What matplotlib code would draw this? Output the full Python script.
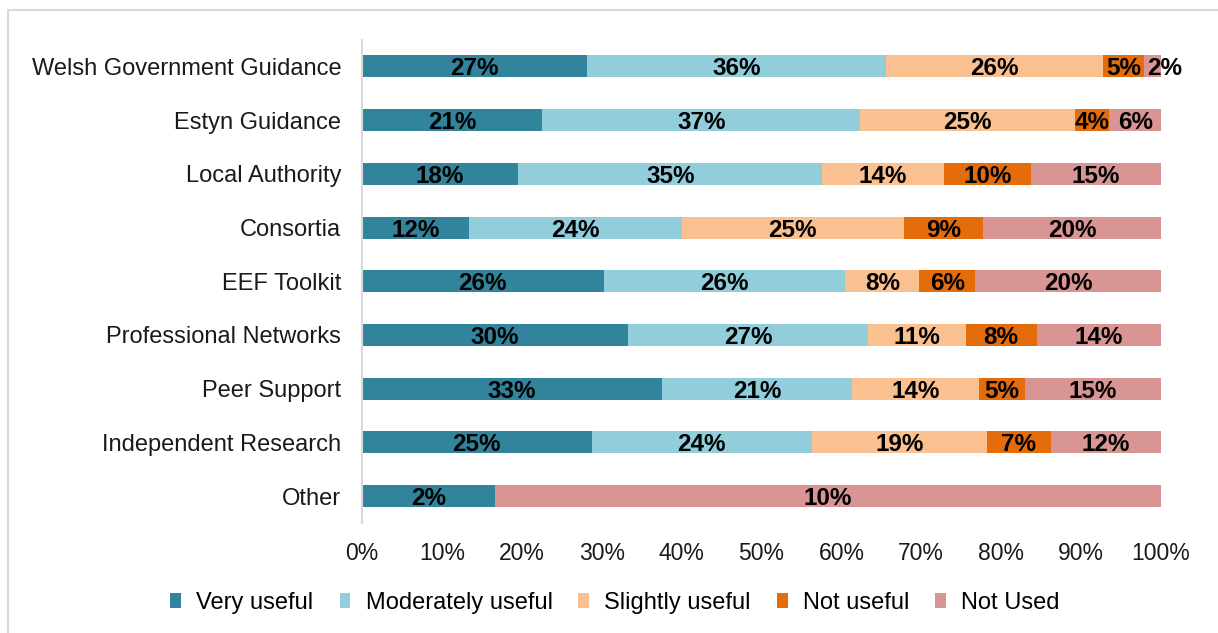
import numpy as np
import matplotlib.pyplot as plt
from matplotlib.patches import Rectangle

plt.rcParams['font.family'] = ['Liberation Sans', 'DejaVu Sans']

# Fuentes de orientación (de arriba a abajo)
categorias = ['Welsh Government Guidance', 'Estyn Guidance', 'Local Authority',
              'Consortia', 'EEF Toolkit', 'Professional Networks', 'Peer Support',
              'Independent Research', 'Other']

series = ['Very useful', 'Moderately useful', 'Slightly useful', 'Not useful', 'Not Used']
colores = ['#31849B', '#92CDDC', '#FAC090', '#E46C0A', '#D99594']

very_useful = [27, 21, 18, 12, 26, 30, 33, 25, 2]
moderately_useful = [36, 37, 35, 24, 26, 27, 21, 24, 0]
slightly_useful = [26, 25, 14, 25, 8, 11, 14, 19, 0]
not_useful = [5, 4, 10, 9, 6, 8, 5, 7, 0]
not_used = [2, 6, 15, 20, 20, 14, 15, 12, 10]

datos = np.array([very_useful, moderately_useful, slightly_useful, not_useful, not_used], dtype=float)
# barras al 100%: cada fila se normaliza sobre su total
normal = datos / datos.sum(axis=0) * 100

fig = plt.figure(figsize=(12.18, 6.33), dpi=100)
ax = fig.add_axes([362/1218, 1-523/633, 799/1218, 483.5/633])

y = np.arange(len(categorias))
izq = np.zeros(len(categorias))
for i in range(len(series)):
    ax.barh(y, normal[i], left=izq, height=0.41, color=colores[i], label=series[i])
    for j in range(len(categorias)):
        if datos[i][j] > 0:
            # si el tramo es muy estrecho, la etiqueta empieza en su borde izquierdo
            if normal[i][j] < 3:
                ax.text(izq[j] + 0.4, y[j], str(int(datos[i][j])) + '%', ha='left',
                        va='center_baseline', fontsize=17.5, fontweight='bold', color='black')
            else:
                ax.text(izq[j] + normal[i][j]/2, y[j], str(int(datos[i][j])) + '%', ha='center',
                        va='center_baseline', fontsize=17.5, fontweight='bold', color='black')
    izq = izq + normal[i]

ax.set_yticks(y)
ax.set_yticklabels(categorias, fontsize=17, color='#1a1a1a')
ax.set_ylim(len(categorias) - 0.5, -0.5)
ax.set_xlim(0, 100)
ax.set_xticks(np.arange(0, 101, 10))
ax.set_xticklabels([str(v) + '%' for v in range(0, 101, 10)], fontsize=16.5, color='#1a1a1a')
ax.tick_params(axis='both', length=0)
ax.tick_params(axis='x', pad=14)
ax.tick_params(axis='y', pad=15)
for s in ['top', 'right', 'bottom']:
    ax.spines[s].set_visible(False)
ax.spines['left'].set_color('#D9D9D9')
ax.spines['left'].set_linewidth(1.5)

fig.legend(loc='center', bbox_to_anchor=(0.505, 1-603/633), ncol=5, frameon=False,
           fontsize=17, handlelength=0.45, handleheight=0.6, handletextpad=0.65,
           columnspacing=1.1)

# borde del gráfico
fig.patches.append(Rectangle((8/1218, -0.05), 1.1, 1-10/633+0.05, transform=fig.transFigure,
                             fill=False, edgecolor='#D9D9D9', linewidth=1.5))

plt.savefig('out.png', dpi=100)
